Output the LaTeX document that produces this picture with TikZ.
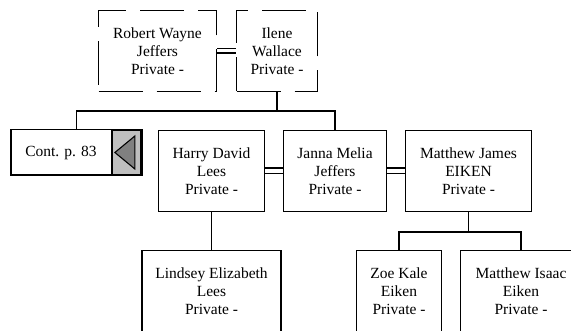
\documentclass[tikz,border=0pt]{standalone}
\usepackage{fontspec}
\setmainfont{Liberation Serif}
\usetikzlibrary{positioning,fit,calc}
\tikzset{
  indiv/.style ={draw,line width=1.9pt,align=center,inner sep=0pt,
                 minimum height=81pt,font=\fontsize{15.5}{18}\selectfont},
  parent/.style={indiv,line width=1.2pt,dash pattern=on 44pt off 14pt},
  marr/.style  ={double,line width=1.6pt,double distance=3.8pt},
  kin/.style   ={line width=1.9pt},
}

\begin{document}
\begin{tikzpicture}[x=1pt,y=-1pt]
\useasboundingbox (0,0) rectangle (571,331);
\clip (0,0) rectangle (571,331);
% parents
\node[parent,minimum width=118pt] (robert) at (157.5,51) {Robert Wayne\\Jeffers\\Private -};
\node[parent,minimum width=81pt] (ilene) at (277,51) {Ilene\\Wallace\\Private -};
% children and spouses
\node[indiv,minimum width=106pt] (harry) at (211.5,171) {Harry David\\Lees\\Private -};
\node[indiv,minimum width=103pt] (janna) at (335,171) {Janna Melia\\Jeffers\\Private -};
\node[indiv,minimum width=126pt] (mjames) at (468.5,171) {Matthew James\\EIKEN\\Private -};
% continuation box
\node[indiv,draw=none,minimum width=98pt,minimum height=44pt] (contlbl) at (61,152.5) {Cont. p. 83};
\node[draw,line width=1.9pt,fill=gray!50,inner sep=0pt,minimum width=29pt,minimum height=44pt,
      right=0pt of contlbl] (contarr) {};
\node[draw,line width=1.9pt,inner sep=0pt,fit=(contlbl)(contarr)] (cont) {};
\draw[line width=1.1pt,fill=gray] ($(contarr.center)+(-11.5,0)$) -- ($(contarr.center)+(8.5,-16.5)$)
  -- ($(contarr.center)+(8.5,16.5)$) -- cycle;
% grandchildren
\node[indiv,minimum width=139pt] (lindsey) at (211.5,291) {Lindsey Elizabeth\\Lees\\Private -};
\node[indiv,minimum width=85pt] (zoe) at (399,291) {Zoe Kale\\Eiken\\Private -};
\node[indiv,minimum width=121pt] (misaac) at (521,291) {Matthew Isaac\\Eiken\\Private -};
% lines
\draw[marr,line width=1.2pt,double distance=3pt] (robert) -- (ilene);
\draw[marr] (harry) -- (janna);
\draw[marr] (janna) -- (mjames);
\draw[kin] (ilene.south) -- ++(0,19) coordinate (sib);
\draw[kin] (cont.north) |- (sib) -| (janna.north);
\draw[kin] (harry.south) -- (lindsey.north);
\draw[kin] (mjames.south) -- ++(0,20) coordinate (kids);
\draw[kin] (zoe.north) |- (kids) -| (misaac.north);
\end{tikzpicture}
\end{document}
